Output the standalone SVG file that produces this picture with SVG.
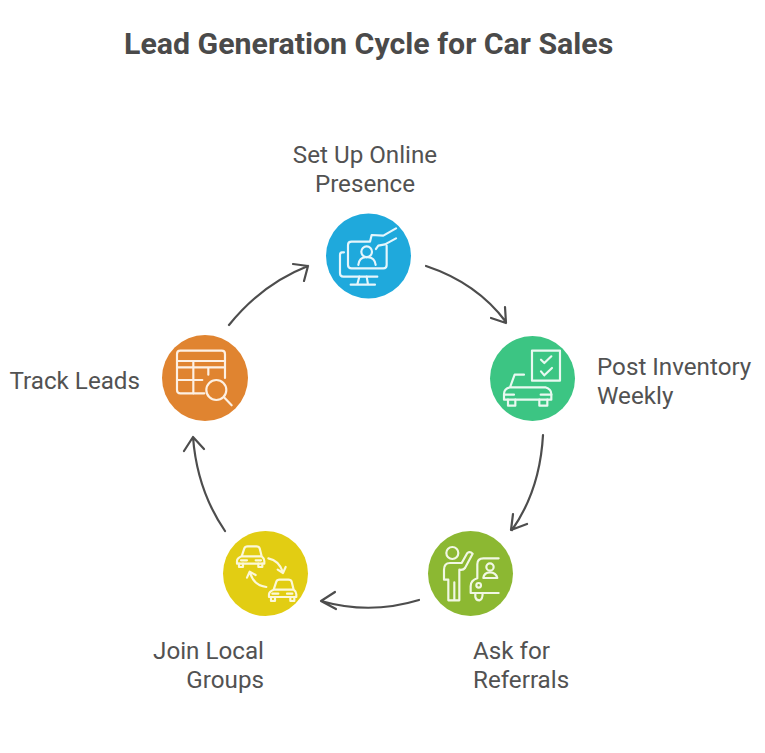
<svg xmlns="http://www.w3.org/2000/svg" width="765" height="753" viewBox="0 0 765 753">
<style>
text{font-family:Roboto,"Liberation Sans",sans-serif;fill:#525252}
.t{font-size:30.300px;font-weight:700;fill:#4a4a4a}
.l{font-size:24.200px}
.c{fill:none;stroke:#4d4d4d;stroke-width:2.200;stroke-linecap:round;stroke-linejoin:round}
.i{fill:none;stroke-width:6.500;stroke-linecap:round;stroke-linejoin:round}
</style>
<rect width="765" height="753" fill="#ffffff"/>
<text class="t" x="124" y="54">Lead Generation Cycle for Car Sales</text>
<g id="connectors">
<path class="c" d="M426 266Q477 283 506 322M491 318L506 323L505 307"/>
<path class="c" d="M543 435Q540 490 512 530M513 514L511 530L527 524"/>
<path class="c" d="M419 600Q370 615 321 601M335 592L321 601L336 609"/>
<path class="c" d="M225 531Q197 490 193 437M184 451L193 437L204 449"/>
<path class="c" d="M229 325Q262 284 308 266M293 264L308 266L304 281"/>
</g>
<g id="node-online">
<circle cx="368.500" cy="256" r="42.500" fill="#1fa9dc"/>
<g transform="translate(320 205) scale(.3333)" class="i" stroke="#e6f6fc">
<path d="M228 70L190 92L155 90L150 110H95Q84 110 84 120V180Q84 190 95 190H190Q200 190 200 180V122M228 100L195 118L175 122L168 132"/>
<path d="M72 142H66Q60 142 60 150V205Q60 215 70 215H172"/>
<circle cx="140" cy="140" r="16"/>
<path d="M115 180Q118 155 140 157Q164 155 167 180"/>
<path d="M118 215L112 238M140 215L144 238M92 239H165"/>
</g>
</g>
<g id="node-inventory">
<circle cx="532.500" cy="378.500" r="42.500" fill="#3cc583"/>
<g transform="translate(482 328) scale(.3333)" class="i" stroke="#e9f9f1">
<path d="M150 158V68H234V158H150Z"/>
<path d="M177 95L187 105L208 85M177 130L187 142L210 120"/>
<path d="M126 140H98L84 178Q66 182 66 198V215H208V198Q208 184 190 178H84"/>
<path d="M78 215V233H100V215M172 215V233H196V215"/>
<path d="M66 200H96M176 200H208"/>
</g>
</g>
<g id="node-referrals">
<circle cx="470.500" cy="573.500" r="42.500" fill="#8cb832"/>
<g transform="translate(420 523) scale(.3333)" class="i" stroke="#f1f7e4">
<circle cx="97" cy="90" r="18"/>
<path d="M85 232V170H72V140Q72 120 90 120H125L142 90Q150 84 158 92L135 135Q130 142 118 140V232H103V178M85 232H103"/>
<path d="M236 106H190Q172 106 172 124V166Q152 172 152 190V210H236"/>
<circle cx="176" cy="187" r="7"/>
<circle cx="210" cy="132" r="11"/>
<path d="M190 165Q192 148 210 148Q228 148 232 165H190Z"/>
<path d="M166 210V222Q168 232 178 232Q188 230 188 210"/>
</g>
</g>
<g id="node-groups">
<circle cx="265.500" cy="573.500" r="42.500" fill="#e2cd13"/>
<g transform="translate(215 523) scale(.3333)" class="i" stroke="#fcf8d8">
<path d="M80 100L88 76Q90 70 98 70H124Q132 70 134 76L140 100Q148 106 148 114V122H66V114Q66 106 80 100ZM80 100H140"/>
<path d="M72 122V132H84V122M130 122V132H142V122M78 112H96M122 112H138"/>
<path d="M176 200L184 176Q186 170 194 170H220Q228 170 230 176L236 200Q244 206 244 214V222H162V214Q162 206 176 200ZM176 200H236"/>
<path d="M168 222V234H180V222M226 222V234H238V222M172 212H190M216 212H232"/>
<path d="M160 106Q192 112 204 148M188 140L204 150L212 132"/>
<path d="M154 192Q118 188 106 152M96 164L104 146L122 156"/>
</g>
</g>
<g id="node-track">
<circle cx="205" cy="378" r="43" fill="#e08430"/>
<g transform="translate(155 328) scale(.3333)" class="i" stroke="#fdf0e3">
<path d="M148 196H76Q66 196 66 186V78Q66 68 76 68H200Q210 68 210 78V150"/>
<path d="M66 99H210M66 118H210M66 156H142M115 99V196M160 118V140"/>
<circle cx="184" cy="186" r="30"/>
<path d="M207 208L230 232"/>
</g>
</g>
<text class="l" text-anchor="middle" x="365" y="163">Set Up Online</text>
<text class="l" text-anchor="middle" x="365" y="192">Presence</text>
<text class="l" x="597" y="375">Post Inventory</text>
<text class="l" x="597" y="404">Weekly</text>
<text class="l" x="473" y="659">Ask for</text>
<text class="l" x="473" y="688">Referrals</text>
<text class="l" text-anchor="end" x="264" y="659">Join Local</text>
<text class="l" text-anchor="end" x="264" y="688">Groups</text>
<text class="l" text-anchor="end" x="140" y="389">Track Leads</text>
</svg>
